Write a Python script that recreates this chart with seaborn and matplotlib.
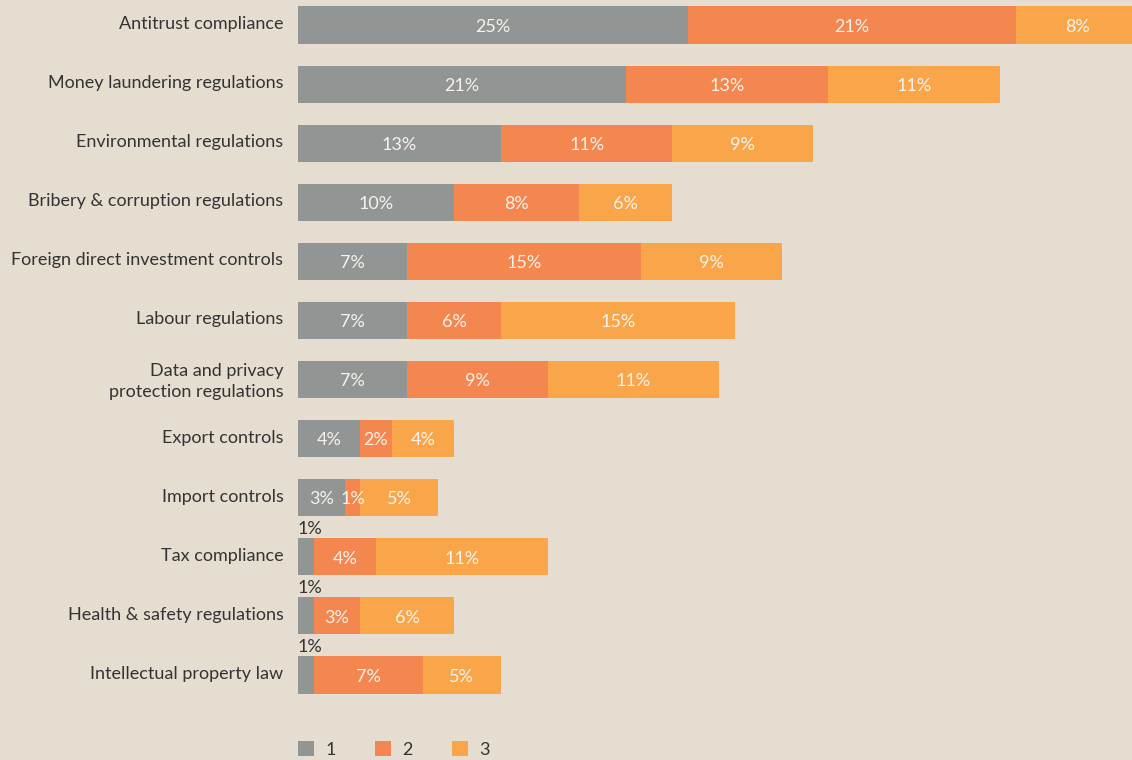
import numpy as np
import pandas as pd
import matplotlib
matplotlib.use("Agg")
import matplotlib.pyplot as plt
import matplotlib.transforms as mtransforms
from matplotlib.patches import Patch
import seaborn as sns

categories = [
    "Antitrust compliance",
    "Money laundering regulations",
    "Environmental regulations",
    "Bribery & corruption regulations",
    "Foreign direct investment controls",
    "Labour regulations",
    "Data and privacy\nprotection regulations",
    "Export controls",
    "Import controls",
    "Tax compliance",
    "Health & safety regulations",
    "Intellectual property law",
]
rank1 = [25, 21, 13, 10, 7, 7, 7, 4, 3, 1, 1, 1]
rank2 = [21, 13, 11, 8, 15, 6, 9, 2, 1, 4, 3, 7]
rank3 = [8, 11, 9, 6, 9, 15, 11, 4, 5, 11, 6, 5]
series_names = ["1", "2", "3"]

BG = "#e6ddd1"
COLORS = ["#919695", "#f4864f", "#f9a64a"]
DARK = "#333333"
LIGHT = "#f7f2ea"

sns.set_theme(style="white")
plt.rcParams["font.family"] = ["Lato", "DejaVu Sans"]

df = pd.DataFrame({"category": categories, "r1": rank1, "r2": rank2, "r3": rank3})
df["c1"] = df["r1"]
df["c2"] = df["r1"] + df["r2"]
df["c3"] = df["c2"] + df["r3"]

W, H = 1132, 760
fig = plt.figure(figsize=(W / 100, H / 100), dpi=100, facecolor=BG)
ax = fig.add_axes([298 / W, 1 - 704 / H, 834 / W, 704 / H])
ax.set_facecolor(BG)

# Stacked bars: draw cumulative totals from the outermost layer inward
for col, color in zip(["c3", "c2", "c1"], COLORS[::-1]):
    sns.barplot(data=df, x=col, y="category", color=color, width=0.63,
                linewidth=0, saturation=1, ax=ax, order=categories)

ax.set_xlim(0, 834 / 15.6)
ax.set_ylim(11 + 29 / 59, -25 / 59)
ax.set_xlabel("")
ax.set_ylabel("")
ax.set_xticks([])
ax.tick_params(axis="y", length=0, pad=10.5, labelsize=13, labelcolor=DARK)
lift = mtransforms.ScaledTranslation(0, 2.5 / 100, fig.dpi_scale_trans)
for lbl in ax.get_yticklabels():
    lbl.set_multialignment("right")
    lbl.set_linespacing(1.4)
    lbl.set_transform(lbl.get_transform() + lift)
sns.despine(ax=ax, left=True, bottom=True)

# Segment value labels
for i, row in df.iterrows():
    left = 0
    for key in ["r1", "r2", "r3"]:
        v = row[key]
        if v == 1 and key == "r1":
            ax.text(left, i - 0.33, f"{v}%", ha="left", va="bottom",
                    fontsize=13, color=DARK)
        else:
            ax.text(left + v / 2, i + 0.03, f"{v}%", ha="center", va="center",
                    fontsize=13, color=LIGHT)
        left += v

handles = [Patch(facecolor=c, edgecolor="none") for c in COLORS]
fig.legend(handles, series_names, loc="lower left",
           bbox_to_anchor=(298 / W, 2 / H), ncol=3, frameon=False,
           borderpad=0, borderaxespad=0,
           fontsize=13, handlelength=0.88, handleheight=0.88,
           handletextpad=0.65, columnspacing=2.15, labelcolor=DARK)

fig.savefig("out.png", dpi=100, facecolor=BG)
